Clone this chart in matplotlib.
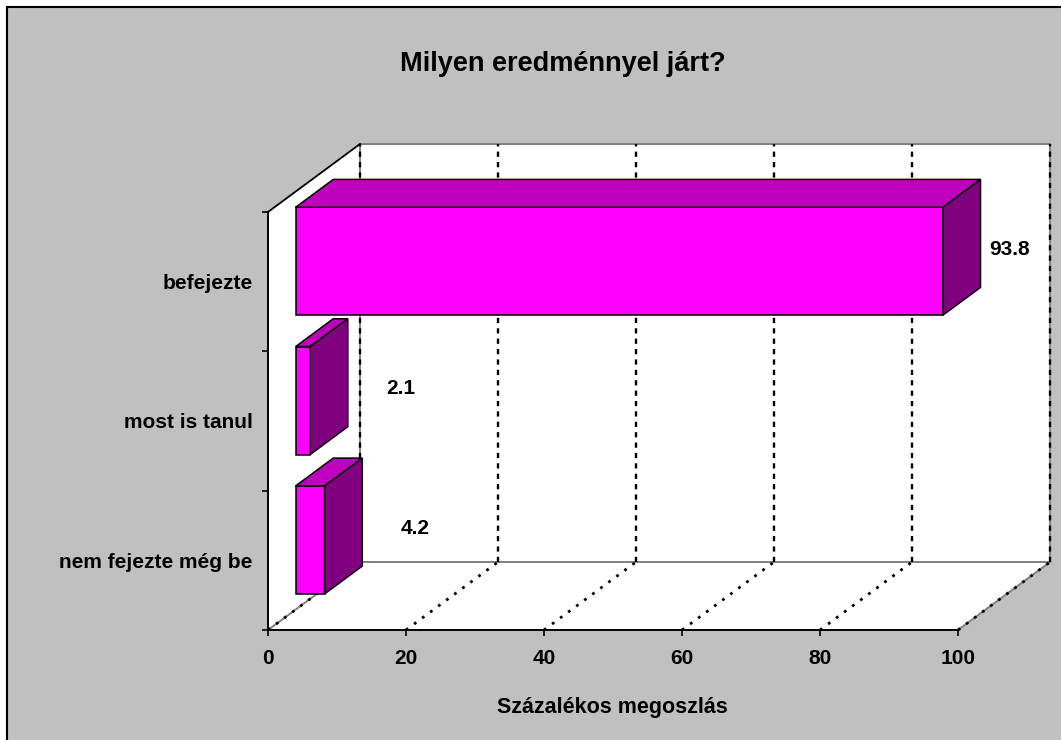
import matplotlib
matplotlib.use("Agg")
import matplotlib.pyplot as plt
from matplotlib.patches import Rectangle, Polygon

plt.rcParams['font.family'] = ['Liberation Sans', 'DejaVu Sans']
plt.rcParams['font.weight'] = 'bold'

# data (bottom to top, as drawn)
categories = ["nem fejezte még be", "most is tanul", "befejezte"]
values = [4.2, 2.1, 93.8]
value_labels = ["4.2", "2.1", "93.8"]
x_ticks = [0, 20, 40, 60, 80, 100]
title = "Milyen eredménnyel járt?"
xlabel = "Százalékos megoszlás"

# colours
bg = "#C0C0C0"
front_col = "#FF00FF"
top_col = "#BF00BF"
side_col = "#800080"
edge_gray = "#808080"

# 3d depth offsets in data units
DX = 13.33
DY = 0.488
D0 = 0.30   # bar starts this far into depth
D1 = 0.41   # bar depth
H = 0.775   # bar height (category units)

fig = plt.figure(figsize=(10.61, 7.40), dpi=100)
fig.patch.set_facecolor("white")
fig.patches.append(Rectangle((7 / 1061, -0.1), 1.2, 1 - 7 / 740 + 0.1,
                             transform=fig.transFigure, facecolor=bg,
                             edgecolor="black", linewidth=1.5, zorder=-5))

ax = fig.add_axes([268 / 1061, 110 / 740, 690 / 1061, 418 / 740])
ax.set_facecolor("none")
ax.set_xlim(0, 100)
ax.set_ylim(0, 3)
nc = len(categories)

# walls
left_wall = Polygon([(0, 0), (0, nc), (DX, nc + DY), (DX, DY)], closed=True,
                    facecolor="white", edgecolor="none", clip_on=False, zorder=0.5)
back_wall = Polygon([(DX, DY), (DX, nc + DY), (100 + DX, nc + DY), (100 + DX, DY)],
                    closed=True, facecolor="white", edgecolor="none", clip_on=False, zorder=0.5)
floor = Polygon([(0, 0), (100, 0), (100 + DX, DY), (DX, DY)], closed=True,
                facecolor="white", edgecolor="none", clip_on=False, zorder=0.5)
for p in (left_wall, back_wall, floor):
    ax.add_patch(p)

# gray wall edges
gray_edges = [
    ([DX, 100 + DX], [nc + DY, nc + DY]),
    ([100 + DX, 100 + DX], [DY, nc + DY]),
    ([DX, 100 + DX], [DY, DY]),
    ([DX, DX], [DY, nc + DY]),
    ([100, 100 + DX], [0, DY]),
    ([0, DX], [0, DY]),
]
for xs, ys in gray_edges:
    ax.plot(xs, ys, color=edge_gray, lw=1.4, clip_on=False, zorder=0.8)
ax.plot([0, DX], [nc, nc + DY], color="black", lw=1.3, clip_on=False, zorder=0.9)

# gridlines on back wall and floor
for t in x_ticks:
    ax.plot([t + DX, t + DX], [DY, nc + DY], color="black", lw=1.7,
            dashes=(2.2, 2.2), clip_on=False, zorder=1)
    ax.plot([t, t + DX], [0, DY], color="black", lw=2.0,
            dashes=(1.0, 2.6), clip_on=False, zorder=1)

# bars
for i in reversed(range(nc)):
    v = values[i]
    c = i + 0.5
    x0 = D0 * DX
    y0 = c - H / 2 + D0 * DY
    ax.add_patch(Rectangle((x0, y0), v, H, facecolor=front_col, edgecolor="black",
                           lw=1.1, clip_on=False, zorder=3 + (nc - i)))
    top = Polygon([(x0, y0 + H), (x0 + v, y0 + H), (x0 + v + D1 * DX, y0 + H + D1 * DY),
                   (x0 + D1 * DX, y0 + H + D1 * DY)], closed=True, facecolor=top_col,
                  edgecolor="black", lw=1.1, clip_on=False, zorder=3 + (nc - i))
    side = Polygon([(x0 + v, y0), (x0 + v + D1 * DX, y0 + D1 * DY),
                    (x0 + v + D1 * DX, y0 + H + D1 * DY), (x0 + v, y0 + H)], closed=True,
                   facecolor=side_col, edgecolor="black", lw=1.1, clip_on=False,
                   zorder=3 + (nc - i))
    ax.add_patch(top)
    ax.add_patch(side)
    # labels sit a little further out for short bars (perspective)
    ax.text(0.961 * v + 17.3, c + 0.23, value_labels[i], ha="center", va="center",
            fontsize=15, fontweight="bold", clip_on=False, zorder=10)

# axes / ticks
for s in ("top", "right"):
    ax.spines[s].set_visible(False)
for s in ("left", "bottom"):
    ax.spines[s].set_color("black")
    ax.spines[s].set_linewidth(1.4)
    ax.spines[s].set_zorder(2)

ax.set_xticks(x_ticks)
ax.set_xticklabels([str(t) for t in x_ticks])
ax.set_yticks(range(nc + 1))
ax.set_yticklabels([])
ax.set_yticks([i + 0.5 for i in range(nc)], minor=True)
ax.set_yticklabels(categories, minor=True)
ax.tick_params(axis="x", length=4.5, width=1.2, pad=9, labelsize=15)
ax.tick_params(axis="y", which="major", length=4.5, width=1.2)
ax.tick_params(axis="y", which="minor", length=0, pad=11, labelsize=15)
for lbl in ax.get_xticklabels() + ax.get_yticklabels(minor=True):
    lbl.set_fontweight("bold")

fig.text(563 / 1061, 1 - 64 / 740, title, ha="center", va="center",
         fontsize=19.5, fontweight="bold")
fig.text(612 / 1061, 1 - 707 / 740, xlabel, ha="center", va="center",
         fontsize=15.5, fontweight="bold")

fig.savefig("out.png", dpi=100)
